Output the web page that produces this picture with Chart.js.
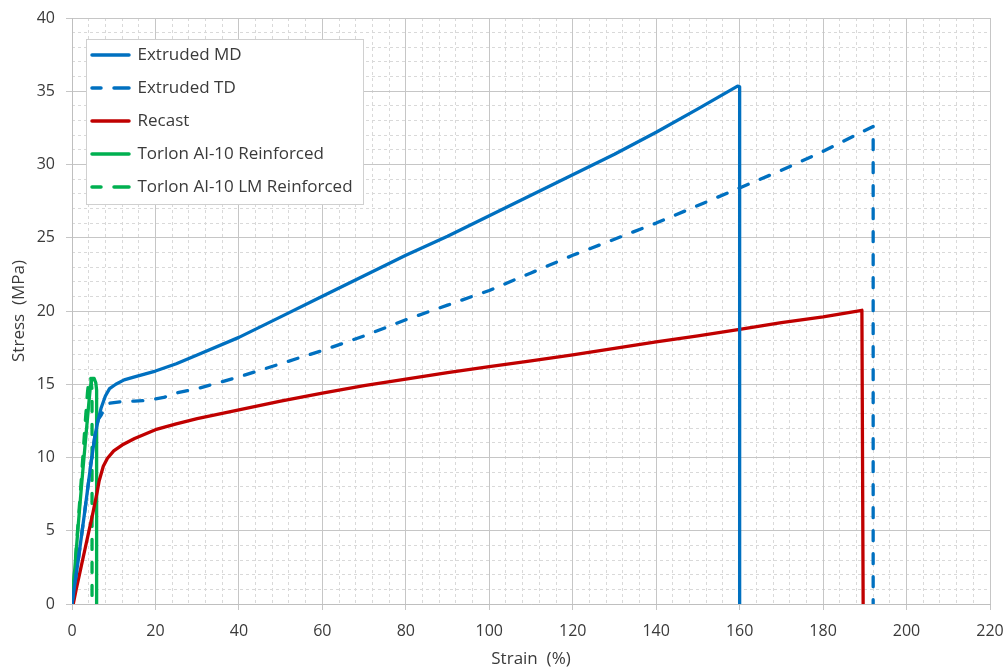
<!DOCTYPE html>
<html><head><meta charset="utf-8">
<script src="https://cdn.jsdelivr.net/npm/chart.js@4/dist/chart.umd.min.js"></script>
<style>html,body{margin:0;padding:0;background:#fff}#wrap{width:1005px;height:668px}</style>
</head><body><div id="wrap"><canvas id="c" width="1005" height="668"></canvas></div>
<script>
// ---- Data ----
const seriesNames = ['Extruded MD', 'Extruded TD', 'Recast', 'Torlon AI-10 Reinforced', 'Torlon AI-10 LM Reinforced'];

const mdStrain = [0, 1.5, 3, 4.5, 5.5, 6.3, 7.0, 8.0, 9.0, 10.5, 12.5, 15, 20, 25, 30, 40, 50, 60, 70, 80, 90, 100, 110, 120, 130, 140, 150, 159.5, 160, 160];
const mdStress = [0, 3.0, 6.2, 9.5, 11.5, 12.6, 13.4, 14.2, 14.7, 15.0, 15.3, 15.5, 15.9, 16.4, 17.0, 18.2, 19.6, 21.0, 22.4, 23.8, 25.1, 26.5, 27.9, 29.3, 30.7, 32.2, 33.8, 35.35, 35.3, 0];

const tdStrain = [0, 1.5, 3, 4.5, 5.5, 6.3, 7.0, 8.0, 9.0, 11.5, 15, 18, 22, 25, 30, 35, 40, 50, 60, 70, 80, 90, 100, 110, 120, 130, 140, 150, 160, 170, 180, 188.5, 192, 192];
const tdStress = [0, 3.0, 6.2, 9.5, 11.5, 12.6, 12.9, 13.5, 13.7, 13.8, 13.85, 13.9, 14.1, 14.4, 14.7, 15.1, 15.5, 16.4, 17.3, 18.3, 19.4, 20.4, 21.4, 22.6, 23.8, 24.9, 26.0, 27.2, 28.4, 29.6, 30.9, 32.1, 32.6, 0];

const rcStrain = [0.3, 1, 2, 3, 4, 5, 6, 6.5, 7.5, 8.5, 10, 12, 15, 20, 25, 30, 40, 50, 60, 70, 80, 90, 100, 110, 120, 130, 140, 150, 160, 170, 180, 189.3, 189.6];
const rcStress = [0, 1.0, 2.3, 3.6, 4.9, 6.2, 7.6, 8.4, 9.4, 9.95, 10.45, 10.85, 11.3, 11.9, 12.3, 12.65, 13.25, 13.85, 14.4, 14.9, 15.35, 15.8, 16.2, 16.6, 17.0, 17.45, 17.9, 18.3, 18.75, 19.2, 19.6, 20.05, 0];

const trStrain = [0, 0.5, 1, 1.5, 2, 2.5, 3, 3.5, 4, 4.4, 4.8, 5.3, 5.7, 5.9, 5.9];
const trStress = [0, 1.8, 3.6, 5.4, 7.1, 8.8, 10.4, 12.0, 13.6, 14.8, 15.4, 15.4, 15.1, 14.6, 0];

const lmStrain = [0, 0.7, 1.2, 1.9, 2.4, 3.1, 3.7, 4.1, 4.5, 4.8, 4.8];
const lmStress = [0, 2.5, 4.5, 7.2, 9.2, 12.1, 14.4, 15.5, 15.4, 14.6, 0];

const xTickStep = 20, xMinorStep = 4, xMin = 0, xMax = 220;
const yTickStep = 5, yMinorStep = 1, yMin = 0, yMax = 40;
const xTitle = 'Strain  (%)';
const yTitle = 'Stress  (MPa)';

// ---- Build ----
const pts = (xs, ys) => xs.map((x, i) => ({x: x, y: ys[i]}));
const BLUE = '#0070C0', RED = '#C00000', GREEN = '#00B050';
const DASH = [10, 13];
const FONT = '"Open Sans", "Liberation Sans", sans-serif';
const TXT = '#3a3a3a';

const ds = (label, data, color, dash) => ({
  label, data, borderColor: color, backgroundColor: color,
  borderWidth: 3.3, borderDash: dash || [], borderCapStyle: 'round', borderJoinStyle: 'round',
  pointRadius: 0, tension: 0, fill: false
});

const isMultiple = (v, s) => Math.abs(v / s - Math.round(v / s)) < 1e-6;

const legendBox = {
  id: 'legendBox',
  afterLayout(chart) {
    const lg = chart.legend;
    const ca = chart.chartArea;
    lg.left = 76; lg.top = 30.5; lg.right = ca.right; lg.bottom = ca.bottom;
  },
  afterDraw(chart) {
    const lg = chart.legend;
    const ctx = chart.ctx;
    const o = lg.options.labels;
    ctx.save();
    ctx.font = '17px ' + FONT;
    let w = 0;
    seriesNames.forEach(n => { w = Math.max(w, ctx.measureText(n).width); });
    const x0 = lg.left + o.padding;
    const textX = x0 + o.pointStyleWidth + 17 / 2;
    const firstC = lg.top + o.padding + 17 / 2;
    const lastC = firstC + 4 * (17 + o.padding);
    const L = x0 - 6, T = firstC - 16, R = Math.max(textX + w + 6, 363), B = lastC + 17;
    ctx.fillStyle = '#ffffff';
    ctx.fillRect(L, T, R - L, B - T);
    ctx.strokeStyle = '#d0d0d0';
    ctx.lineWidth = 1;
    ctx.strokeRect(Math.round(L) + 0.5, Math.round(T) + 0.5, Math.round(R - L), Math.round(B - T));
    ctx.restore();
    lg.draw(chart.chartArea);
  }
};

new Chart(document.getElementById('c'), {
  type: 'line',
  data: {
    datasets: [
      ds(seriesNames[0], pts(mdStrain, mdStress), BLUE),
      ds(seriesNames[1], pts(tdStrain, tdStress), BLUE, DASH),
      ds(seriesNames[2], pts(rcStrain, rcStress), RED),
      ds(seriesNames[3], pts(trStrain, trStress), GREEN),
      ds(seriesNames[4], pts(lmStrain, lmStress), GREEN, DASH)
    ]
  },
  options: {
    responsive: false, animation: false, devicePixelRatio: 1,
    layout: {padding: {left: 0, top: 18, right: 15, bottom: 0}},
    plugins: {
      legend: {
        position: 'chartArea', align: 'start',
        labels: {usePointStyle: true, pointStyle: 'line', pointStyleWidth: 37, padding: 16,
          color: TXT, font: {family: FONT, size: 17},
          generateLabels(chart) {
            const items = Chart.defaults.plugins.legend.labels.generateLabels(chart);
            items.forEach(it => {
              const d = chart.data.datasets[it.datasetIndex];
              const dashed = d.borderDash && d.borderDash.length;
              it.lineDash = dashed ? [9, 13, 15, 13] : [];
              it.lineDashOffset = 0;
              it.lineWidth = 3.5;
              it.lineCap = 'round';
              it.strokeStyle = d.borderColor;
              it.pointStyle = 'line';
            });
            return items;
          }
        }
      },
      tooltip: {enabled: false}
    },
    scales: {
      xm: {
        type: 'linear', position: 'bottom', min: xMin, max: xMax,
        ticks: {display: false, stepSize: xMinorStep},
        grid: {drawTicks: false, lineWidth: 1,
          color: c => isMultiple(c.tick.value, xTickStep) ? 'rgba(0,0,0,0)' : '#d9d9d9'},
        border: {display: false, dash: [3, 3]},
        afterFit: s => { s.height = 0; s.paddingLeft = 0; s.paddingRight = 0; }
      },
      ym: {
        type: 'linear', position: 'left', min: yMin, max: yMax,
        ticks: {display: false, stepSize: yMinorStep},
        grid: {drawTicks: false, lineWidth: 1,
          color: c => isMultiple(c.tick.value, yTickStep) ? 'rgba(0,0,0,0)' : '#d9d9d9'},
        border: {display: false, dash: [3, 3]},
        afterFit: s => { s.width = 0; s.paddingTop = 0; s.paddingBottom = 0; }
      },
      x: {
        type: 'linear', position: 'bottom', min: xMin, max: xMax,
        ticks: {stepSize: xTickStep, color: TXT, font: {family: FONT, size: 16}, padding: 12, maxRotation: 0},
        grid: {color: '#c6c6c6', lineWidth: 1, tickLength: 6},
        border: {color: '#bfbfbf'},
        title: {display: true, text: xTitle, color: TXT, font: {family: FONT, size: 17}, padding: {top: 0, bottom: -1}},
        afterFit: s => { s.height = 64; s.paddingLeft = 0; s.paddingRight = 0; }
      },
      y: {
        type: 'linear', position: 'left', min: yMin, max: yMax,
        ticks: {stepSize: yTickStep, color: TXT, font: {family: FONT, size: 16}, padding: 11},
        grid: {color: '#c6c6c6', lineWidth: 1, tickLength: 6},
        border: {color: '#bfbfbf'},
        title: {display: true, text: yTitle, color: TXT, font: {family: FONT, size: 17}, padding: {top: 9, bottom: 0}},
        afterFit: s => { s.width = 72; s.paddingTop = 0; s.paddingBottom = 0; }
      }
    }
  },
  plugins: [legendBox]
});
</script>
</body></html>
